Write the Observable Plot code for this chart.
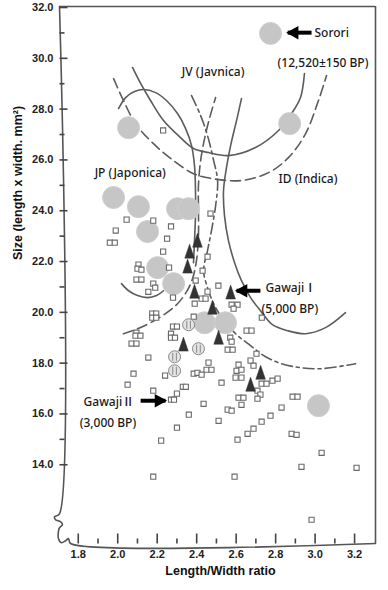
<!DOCTYPE html>
<html><head><meta charset="utf-8">
<script src="https://cdn.jsdelivr.net/npm/d3@7"></script>
<script src="https://cdn.jsdelivr.net/npm/@observablehq/plot@0.6"></script>
<style>body{margin:0;background:#fff}</style>
</head><body><div id="chart"></div>
<script>
const xDomain = [1.705, 3.306];
const yDomain = [10.9, 32.04];
const xMajor = [1.8, 2.0, 2.2, 2.4, 2.6, 2.8, 3.0, 3.2];
const xMinor = [1.9, 2.1, 2.3, 2.5, 2.7, 2.9, 3.1];
const yMajor = [14, 16, 18, 20, 22, 24, 26, 28, 30, 32];
const yMinor = [15, 17, 19, 21, 23, 25, 27, 29, 31];

// small open squares (samples)
const squares = [
[2.23,27.16],[2.045,23.65],[2.18,23.61],[1.99,23.22],[2.27,23.38],[1.96,22.74],[1.985,22.74],[2.25,22.90],[2.23,22.39],[2.105,21.88],[2.10,21.72],[2.12,21.68],[2.26,21.76],[2.095,21.29],[2.12,21.29],[2.18,21.13],[2.19,20.97],[2.155,20.81],[2.28,20.58],[2.175,19.95],[2.195,19.95],[2.175,19.79],[2.195,19.79],[2.28,19.44],[2.30,19.44],[2.095,19.20],[2.09,19.08],[2.115,19.08],[2.27,19.16],[2.27,19.00],[2.29,19.00],[2.07,18.77],[2.095,18.77],[2.155,18.22],[2.08,17.585],[2.24,17.51],[2.385,17.585],[2.05,17.15],[2.33,17.07],[2.345,17.07],[2.18,16.915],[2.30,16.80],[2.27,16.56],[2.285,16.56],[2.36,15.97],[2.30,15.46],[2.22,14.95],[2.18,13.53],
[2.47,23.89],[2.455,22.19],[2.43,21.64],[2.395,21.25],[2.51,21.05],[2.455,20.815],[2.425,20.54],[2.445,20.54],[2.39,20.34],[2.385,19.83],[2.577,20.30],[2.607,20.30],[2.587,20.145],[2.73,19.79],[2.653,19.28],[2.678,19.28],[2.57,19.00],[2.577,18.845],[2.557,18.53],[2.582,18.53],[2.703,18.37],[2.46,18.02],[2.45,17.74],[2.475,17.74],[2.612,17.94],[2.602,17.70],[2.627,17.74],[2.673,18.10],[2.688,17.90],[2.404,17.62],[2.425,17.545],[2.597,17.43],[2.627,17.43],[2.729,17.19],[2.754,17.19],[2.784,17.31],[2.81,17.39],[2.526,17.23],[2.708,16.915],[2.723,16.76],[2.708,16.60],[2.435,16.40],[2.612,16.64],[2.637,16.64],[2.627,16.36],[2.557,16.17],[2.577,16.13],[2.511,15.73],[2.774,15.93],[2.83,16.25],[2.886,16.68],[2.911,16.68],[2.729,15.695],[2.688,15.42],[2.658,15.22],[2.607,14.985],[2.881,15.22],[2.906,15.18],[3.033,14.47],[2.931,13.92],[3.21,13.88],[2.592,13.53],[2.982,11.835]
];

// large grey circles (reference grains, incl. Sorori)
const bigCircles = [
[2.774,30.98],[2.871,27.43],[2.055,27.27],[1.979,24.52],[2.105,24.16],[2.303,24.08],[2.359,24.08],[2.151,23.18],[2.202,21.76],[2.283,21.13],[2.440,19.59],[2.546,19.59],[3.017,16.325]
];

// Gawaji I triangles
const triangles = [
[2.404,22.82],[2.364,22.39],[2.354,21.80],[2.389,20.81],[2.48,20.18],[2.572,20.78],[2.511,19.00],[2.333,18.73],[2.724,17.62],[2.673,17.15]
];

// ringed circles
const rings = [[2.359,19.51],[2.288,18.25],[2.288,17.70],[2.409,18.57]];

// region boundary curves
const jvSolid = [[2.075,29.64],[2.116,29.01],[2.166,28.34],[2.232,27.55],[2.318,26.88],[2.384,26.45],[2.46,26.29],[2.561,26.17],[2.698,26.49],[2.815,27.16],[2.881,27.83],[2.926,28.46],[2.946,29.40]];
const jvDashed = [[1.979,29.20],[2.029,28.34],[2.090,27.43],[2.181,26.64],[2.283,25.97],[2.384,25.46],[2.475,25.27],[2.627,25.19],[2.764,25.50],[2.865,26.09],[2.952,27.04],[3.017,28.34],[3.058,29.32]];
const jpSolidTop = [[2.004,28.02],[2.040,28.455],[2.085,28.69],[2.131,28.77],[2.192,28.65],[2.247,28.34],[2.303,27.825],[2.344,27.234],[2.374,26.565],[2.389,25.777],[2.394,24.793],[2.394,23.808],[2.389,22.823],[2.384,21.957]];
const jpSolidBottom = [[2.019,21.13],[2.055,20.85],[2.100,20.66],[2.151,20.58],[2.197,20.66],[2.232,20.85]];
const jpDashed = [[2.029,19.16],[2.090,19.32],[2.166,19.59],[2.242,19.95],[2.303,20.34],[2.349,20.815],[2.379,21.327],[2.399,22.036],[2.409,23.02],[2.409,24.005],[2.409,24.99],[2.420,25.974],[2.440,26.84],[2.466,27.668],[2.496,28.455]];
const idSolid = [[2.627,28.416],[2.602,27.549],[2.572,26.565],[2.551,25.698],[2.536,24.793],[2.541,23.808],[2.561,22.823],[2.592,21.957],[2.627,21.248],[2.673,20.578],[2.723,20.066],[2.784,19.515],[2.861,19.278],[2.952,19.16],[3.053,19.397],[3.154,19.987]];
const idDashed = [[2.374,28.534],[2.420,27.746],[2.455,26.959],[2.486,25.974],[2.506,25.186],[2.496,24.202],[2.475,23.218],[2.455,22.43],[2.435,21.642],[2.455,20.972],[2.486,20.342],[2.531,19.751],[2.597,19.16],[2.673,18.688],[2.749,18.254],[2.830,17.979],[2.926,17.821],[3.033,17.782],[3.205,17.979]];

// axis break (left/bottom corner)
const axisBreak = [[1.705,32.04],[1.705,12.07],[1.68,11.95],[1.685,11.835],[1.71,11.76],[1.72,11.64],[1.705,11.52],[1.70,11.40],[1.70,11.09],[1.715,10.93],[1.736,11.01],[1.751,11.09],[1.761,10.9],[3.306,10.9]];

// annotations
const labels = [
  {x: 2.997, y: 30.98, text: "Sorori"},
  {x: 2.81, y: 29.79, text: "(12,520±150 BP)"},
  {x: 2.324, y: 29.44, text: "JV (Javnica)"},
  {x: 1.883, y: 25.46, text: "JP (Japonica)"},
  {x: 2.815, y: 25.23, text: "ID (Indica)"},
  {x: 2.749, y: 20.97, text: "GawajiⅠ"},
  {x: 2.729, y: 20.145, text: "(5,000 BP)"},
  {x: 1.827, y: 16.48, text: "GawajiⅡ"},
  {x: 1.807, y: 15.655, text: "(3,000 BP)"}
];
const arrows = [
  {x1: 2.982, x2: 2.861, y: 31.01, dir: -90},
  {x1: 2.723, x2: 2.602, y: 20.85, dir: -90},
  {x1: 2.116, x2: 2.242, y: 16.52, dir: 90}
];

const tallTriangle = {draw(ctx) { ctx.moveTo(0, -7.5); ctx.lineTo(4.8, 6.5); ctx.lineTo(-4.8, 6.5); ctx.closePath(); }};
const arrowHead = {draw(ctx) { ctx.moveTo(0, 0); ctx.lineTo(-5.5, 10); ctx.lineTo(5.5, 10); ctx.closePath(); }};
const ringMark = {draw(ctx) { ctx.moveTo(-1.8, -4); ctx.lineTo(-1.8, 4); ctx.moveTo(1.8, -4); ctx.lineTo(1.8, 4); }};
const tickUpMajor = {draw(ctx) { ctx.moveTo(0, 0); ctx.lineTo(0, -10); }};
const tickUpMinor = {draw(ctx) { ctx.moveTo(0, 0); ctx.lineTo(0, -5); }};
const tickRightMajor = {draw(ctx) { ctx.moveTo(0, 0); ctx.lineTo(8, 0); }};
const tickRightMinor = {draw(ctx) { ctx.moveTo(0, 0); ctx.lineTo(5, 0); }};

const lineColor = "#5c5c5c";
const X = d => d[0], Y = d => d[1];
const axisFont = {fontFamily: "Liberation Sans, Arial, sans-serif", fontWeight: "bold", fontSize: 11, fill: "#222"};
const annFont = {fontFamily: "Noto Sans, Noto Sans CJK KR, sans-serif", fontSize: 12, fontWeight: 500, fill: "#1a1a1a"};
const tickStyle = {stroke: "#444", strokeWidth: 1.6, fill: "none"};

const chart = Plot.plot({
  width: 388, height: 590,
  marginLeft: 59, marginRight: 13, marginTop: 6, marginBottom: 47,
  x: {domain: xDomain, axis: null},
  y: {domain: yDomain, axis: null},
  style: {background: "white", overflow: "visible"},
  marks: [
    // frame
    Plot.line(axisBreak, {x: X, y: Y, stroke: "#555", strokeWidth: 1.6, curve: "catmull-rom"}),
    Plot.ruleY([yDomain[1]], {stroke: "#555", strokeWidth: 1.6}),
    Plot.ruleX([xDomain[1]], {stroke: "#555", strokeWidth: 1.6}),
    // ticks (pointing inward)
    Plot.dot(xMajor, {x: d => d, y: () => yDomain[0], symbol: tickUpMajor, ...tickStyle}),
    Plot.dot(xMinor, {x: d => d, y: () => yDomain[0], symbol: tickUpMinor, ...tickStyle}),
    Plot.dot(yMajor, {x: () => xDomain[0], y: d => d, symbol: tickRightMajor, ...tickStyle}),
    Plot.dot(yMinor, {x: () => xDomain[0], y: d => d, symbol: tickRightMinor, ...tickStyle}),
    Plot.axisX({ticks: xMajor, tickSize: 0, tickPadding: 7, tickFormat: d => d.toFixed(1), label: null, ...axisFont}),
    Plot.axisY({ticks: yMajor, tickSize: 0, tickPadding: 6, tickFormat: d => d.toFixed(1), label: null, ...axisFont}),
    // curves
    Plot.line(jvSolid, {x: X, y: Y, curve: "catmull-rom", stroke: lineColor, strokeWidth: 1.6}),
    Plot.line(jvDashed, {x: X, y: Y, curve: "catmull-rom", stroke: lineColor, strokeWidth: 1.6, strokeDasharray: "10,5"}),
    Plot.line(jpSolidTop, {x: X, y: Y, curve: "catmull-rom", stroke: lineColor, strokeWidth: 1.6}),
    Plot.line(jpSolidBottom, {x: X, y: Y, curve: "catmull-rom", stroke: lineColor, strokeWidth: 1.6}),
    Plot.line(jpDashed, {x: X, y: Y, curve: "catmull-rom", stroke: lineColor, strokeWidth: 1.6, strokeDasharray: "10,5"}),
    Plot.line(idSolid, {x: X, y: Y, curve: "catmull-rom", stroke: lineColor, strokeWidth: 1.6}),
    Plot.line(idDashed, {x: X, y: Y, curve: "catmull-rom", stroke: lineColor, strokeWidth: 1.6, strokeDasharray: "11,4,3,4"}),
    // points
    Plot.dot(bigCircles, {x: X, y: Y, r: 11, fill: "#c6c6c6", stroke: "#cfcfcf", strokeWidth: 1}),
    Plot.dot(squares, {x: X, y: Y, r: 2.9, symbol: "square", fill: "white", stroke: "#6a6a6a", strokeWidth: 1.1}),
    Plot.dot(rings, {x: X, y: Y, r: 6, fill: "#e4e4e4", stroke: "#888", strokeWidth: 1}),
    Plot.dot(rings, {x: X, y: Y, symbol: ringMark, stroke: "#888", strokeWidth: 1}),
    Plot.dot(triangles, {x: X, y: Y, symbol: tallTriangle, fill: "#333", stroke: "#333", strokeWidth: 0.5}),
    // arrows
    Plot.link(arrows, {x1: "x1", x2: "x2", y1: "y", y2: "y", stroke: "#000", strokeWidth: 4}),
    Plot.dot(arrows, {x: "x2", y: "y", symbol: arrowHead, rotate: "dir", fill: "#000", stroke: "#000"}),
    // texts
    Plot.text(labels, {x: "x", y: "y", text: "text", textAnchor: "start", ...annFont}),
    Plot.text(["Length/Width ratio"], {frameAnchor: "bottom", dx: 3, dy: 31, fontFamily: "Liberation Sans, Arial, sans-serif", fontWeight: "bold", fontSize: 12.5, fill: "#111"}),
    Plot.text(["Size (length x width. mm²)"], {frameAnchor: "left", dx: -42, dy: -15, rotate: -90, fontFamily: "Liberation Sans, Arial, sans-serif", fontWeight: "bold", fontSize: 12.5, fill: "#111"})
  ]
});
document.getElementById("chart").appendChild(chart);
</script>
</body></html>
